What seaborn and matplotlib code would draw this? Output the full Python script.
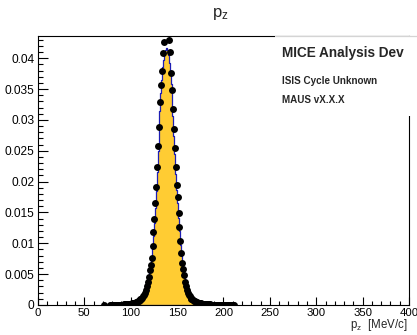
import numpy as np
import pandas as pd
import matplotlib
matplotlib.use("Agg")
import matplotlib.pyplot as plt
import seaborn as sns
from matplotlib.patches import Rectangle
from matplotlib.lines import Line2D
from matplotlib.ticker import MultipleLocator, FuncFormatter

sns.set_style("white")
plt.rcParams["font.family"] = ["Liberation Sans", "DejaVu Sans"]
plt.rcParams["mathtext.fontset"] = "custom"
plt.rcParams["mathtext.rm"] = "Liberation Sans"
plt.rcParams["mathtext.it"] = "Liberation Sans:italic"
plt.rcParams["mathtext.bf"] = "Liberation Sans:bold"

# ---------------- data (1 MeV/c bins, first bin starts at 71 MeV/c) ----------------
first_bin = 71
nan = float("nan")

# data points (black markers), bins 71 ... 211
dot_vals = [
    0.00001, nan, nan, nan, nan, nan,                                  # 71-76
    0.00001, 0.00001, 0.00001, 0.00001,                                # 77-80
    0.00002, 0.00002, 0.00002, 0.00003, 0.00003,                       # 81-85
    0.00004, 0.00004, 0.00005, 0.00005, 0.00006,                       # 86-90
    0.00007, 0.00008, 0.00009, 0.0001, 0.00012,                        # 91-95
    0.00014, 0.00016, 0.00018, 0.0002, 0.00024,                        # 96-100
    0.00027, 0.0003, 0.00035, 0.0004, 0.00045,                         # 101-105
    0.0005, 0.0006, 0.0007, 0.0008, 0.0009,                            # 106-110
    0.0010, 0.0012, 0.0014, 0.0016, 0.0020,                            # 111-115
    0.0025, 0.0031, 0.0038, 0.0046, 0.0057,                            # 116-120
    0.0065, 0.0076, 0.0096, 0.0118, 0.0139,                            # 121-125
    0.0165, 0.0192, 0.0224, 0.0258, 0.0289,                            # 126-130
    0.0329, 0.0357, 0.0380, 0.0408, 0.0427,                            # 131-135
    0.0462, 0.0490, 0.0502, 0.0495, 0.0468,                            # 136-140
    0.0429, 0.0410, 0.0376, 0.0349, 0.0318,                            # 141-145
    0.0285, 0.0254, 0.0223, 0.0195, 0.0175,                            # 146-150
    0.0149, 0.0127, 0.0104, 0.0085, 0.0068,                            # 151-155
    0.0058, 0.0049, 0.0038, 0.0031, 0.0025,                            # 156-160
    0.0020, 0.0016, 0.0014, 0.0012, 0.0010,                            # 161-165
    0.0009, 0.0008, 0.0007, 0.0006, 0.0005,                            # 166-170
    0.00045, 0.0004, 0.00035, 0.0003, 0.00027,                         # 171-175
    0.00024, 0.00021, 0.00019, 0.00017, 0.00015,                       # 176-180
    0.00013, 0.00012, 0.0001, 0.00009, 0.00008,                        # 181-185
    0.00007, 0.00006, 0.00005, 0.00005, 0.00004,                       # 186-190
    0.00004, 0.00003, 0.00003, 0.00003, 0.00002,                       # 191-195
    0.00002, 0.00002, 0.00002, 0.00001, 0.00001,                       # 196-200
    0.00001, 0.00001, 0.00001, 0.00001, 0.00001, 0.00001,              # 201-206
    0.00001, 0.00001, 0.00001, 0.00001, 0.00001,                       # 207-211
]

# filled reference histogram (yellow with blue outline), bins 71 ... 211
fill_vals = [
    0, 0, 0, 0, 0, 0, 0, 0, 0, 0,                                      # 71-80
    0, 0, 0, 0, 0, 0, 0, 0, 0,                                         # 81-89
    0.00002, 0.00003, 0.00003, 0.00004, 0.00005,                       # 90-94
    0.00006, 0.00007, 0.00008, 0.00009, 0.0001,                        # 95-99
    0.00012, 0.00014, 0.00017, 0.0002, 0.00025,                        # 100-104
    0.0003, 0.00035, 0.0004, 0.0005, 0.0006,                           # 105-109
    0.0007, 0.0008, 0.0010, 0.0012, 0.0015,                            # 110-114
    0.0018, 0.0022, 0.0028, 0.0035, 0.0043,                            # 115-119
    0.0053, 0.0062, 0.0074, 0.0092, 0.0112,                            # 120-124
    0.0133, 0.0158, 0.0185, 0.0216, 0.0249,                            # 125-129
    0.0280, 0.0315, 0.0343, 0.0365, 0.0385,                            # 130-134
    0.0397, 0.0406, 0.0413, 0.0417, 0.0414,                            # 135-139
    0.0405, 0.0393, 0.0378, 0.0358, 0.0335,                            # 140-144
    0.0306, 0.0274, 0.0244, 0.0213, 0.0186,                            # 145-149
    0.0166, 0.0141, 0.0120, 0.0098, 0.0080,                            # 150-154
    0.0065, 0.0055, 0.0045, 0.0035, 0.0028,                            # 155-159
    0.0022, 0.0018, 0.0015, 0.0012, 0.0010,                            # 160-164
    0.0008, 0.0007, 0.0006, 0.0005, 0.0004,                            # 165-169
    0.00035, 0.0003, 0.00025, 0.0002, 0.00017,                         # 170-174
    0.00014, 0.00012, 0.0001, 0.00009, 0.00008,                        # 175-179
    0.00007, 0.00006, 0.00005, 0.00004, 0.00003,                       # 180-184
    0.00003, 0.00002, 0.00002,                                         # 185-187
    0, 0, 0, 0, 0, 0, 0, 0, 0, 0, 0, 0,                                # 188-199
    0, 0, 0, 0, 0, 0, 0, 0, 0, 0, 0, 0,                                # 200-211
]

x_ticks = [0, 50, 100, 150, 200, 250, 300, 350, 400]
title_text = r"$\mathregular{p_{z}}$"
xlabel_text = r"$\mathregular{p_{z}}$  [MeV/c]"
box_lines = ["MICE Analysis Dev", "ISIS Cycle Unknown", "MAUS vX.X.X"]

edges = [float(first_bin + i) for i in range(len(dot_vals) + 1)]
centers = [e + 0.5 for e in edges[:-1]]
hist_df = pd.DataFrame({"pz": centers, "w": fill_vals})
dots_df = pd.DataFrame({"pz": centers, "v": dot_vals}).dropna()

# ---------------- figure ----------------
fig = plt.figure(figsize=(4.17, 3.35), dpi=100)
fig.patch.set_facecolor("white")
ax = fig.add_axes([0.0911, 0.0896, 0.8897, 0.8029])
ax.set_facecolor("white")

sns.histplot(data=hist_df, x="pz", weights="w", bins=edges, element="step",
             fill=True, alpha=1, facecolor="#FFCC33", edgecolor="#1e1eb4",
             linewidth=0.9, ax=ax, zorder=2)
sns.scatterplot(data=dots_df, x="pz", y="v", color="black", s=25,
                linewidth=0, ax=ax, zorder=3)

ax.set_xlim(0, 400)
ax.set_ylim(0, 0.0436)
ax.set_xlabel("")
ax.set_ylabel("")

ax.set_xticks(x_ticks)
ax.xaxis.set_minor_locator(MultipleLocator(10))
ax.yaxis.set_major_locator(MultipleLocator(0.005))
ax.yaxis.set_minor_locator(MultipleLocator(0.001))
ax.xaxis.set_major_formatter(FuncFormatter(lambda v, p: "%g" % v))
ax.yaxis.set_major_formatter(FuncFormatter(lambda v, p: "%g" % round(v, 4)))

ax.tick_params(axis="both", which="both", direction="in", bottom=True,
               left=True, top=False, right=False, colors="black", width=0.8)
ax.tick_params(axis="x", which="major", length=5.8, pad=2.5, labelsize=8.2)
ax.tick_params(axis="x", which="minor", length=2.9)
ax.tick_params(axis="y", which="major", length=7, pad=2.5, labelsize=8.6)
ax.tick_params(axis="y", which="minor", length=3.5)
for sp in ax.spines.values():
    sp.set_visible(True)
    sp.set_color("black")
    sp.set_linewidth(0.8)

# title and axis label
fig.text(0.528, 1 - 14 / 335, title_text, ha="center", va="center",
         fontsize=12)
fig.text(0.976, 1 - 325 / 335, xlabel_text, ha="right", va="center",
         fontsize=8.3)

# info box (white, drawn over the frame, light top edge)
box = Rectangle((275 / 417, 1 - 116 / 335), 0.4, (116 - 36) / 335,
                transform=fig.transFigure, facecolor="white",
                edgecolor="none", zorder=5)
fig.add_artist(box)
fig.add_artist(Line2D([275 / 417, 1.0], [1 - 36 / 335, 1 - 36 / 335],
                      transform=fig.transFigure, color="#d4d4d4",
                      linewidth=0.9, zorder=6))
fig.text(282.5 / 417, 1 - 53 / 335, box_lines[0], ha="left", va="center",
         fontsize=9.8, fontweight="bold", zorder=6)
fig.text(282.5 / 417, 1 - 81.5 / 335, box_lines[1], ha="left", va="center",
         fontsize=7.1, fontweight="bold", zorder=6)
fig.text(282.5 / 417, 1 - 100 / 335, box_lines[2], ha="left", va="center",
         fontsize=7.1, fontweight="bold", zorder=6)

fig.savefig("out.png", dpi=100, facecolor="white")
